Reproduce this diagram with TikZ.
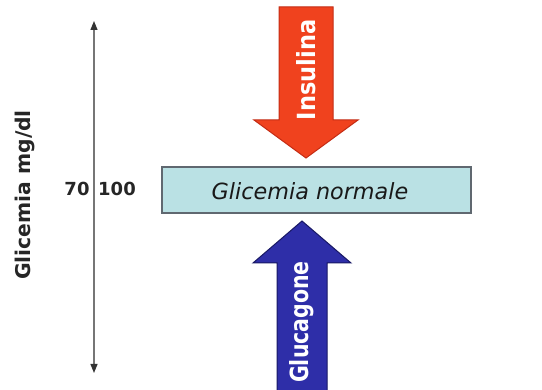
\documentclass[tikz,border=0pt]{standalone}
\usepackage{fontspec}
\usepackage{graphicx}
\setmainfont{DejaVu Sans}
\usetikzlibrary{arrows.meta}
\definecolor{insred}{RGB}{240,66,30}
\definecolor{insredline}{RGB}{196,44,20}
\definecolor{glublue}{RGB}{46,46,168}
\definecolor{glubluel}{RGB}{24,24,100}
\definecolor{boxfill}{RGB}{186,225,228}
\definecolor{boxline}{RGB}{96,104,112}
\definecolor{axisgray}{RGB}{118,118,118}
\tikzset{
  bigarrow/.style={line width=1pt, line join=miter},
  arrowlabel/.style={text=white, font=\bfseries\fontsize{25}{25}\selectfont, rotate=90, inner sep=0pt},
  boxstyle/.style={draw=boxline, fill=boxfill, line width=1.3pt, minimum width=309pt, minimum height=46pt, inner sep=0pt},
  numlabel/.style={font=\bfseries\fontsize{18}{18}\selectfont, text=black!85, inner sep=0pt},
  axislabel/.style={font=\bfseries\fontsize{20.3}{20.3}\selectfont, text=black!85, rotate=90, inner sep=0pt},
  axisline/.style={draw=axisgray, line width=1.2pt, {Triangle[width=7pt,length=9pt,color=black!80]}-{Triangle[width=7pt,length=9pt,color=black!80]}}
}
\begin{document}
\begin{tikzpicture}[x=1pt,y=-1pt]
\useasboundingbox (0,0) rectangle (542,390);
% insulin arrow
\draw[bigarrow, fill=insred, draw=insredline] (279,7) -- (333,7) -- (333,120) -- (358,120) -- (306,158) -- (254,120) -- (279,120) -- cycle;
\node[arrowlabel] (ins) at (306,70) {\scalebox{0.9}[1]{Insulina}};
% glucagon arrow
\draw[bigarrow, fill=glublue, draw=glubluel] (277,390) -- (277,263) -- (253,263) -- (302,221) -- (351,263) -- (327,263) -- (327,390);
\node[arrowlabel] (glu) at (302,322) {\scalebox{0.82}[1]{Glucagone}};
% box
\node[boxstyle] (box) at (316.5,190) {};
\node[font=\itshape\fontsize{22.3}{22.3}\selectfont, text=black!90, inner sep=0pt] (norm) at (310,191) {Glicemia normale};
% axis
\coordinate (top) at (94,21);
\coordinate (bot) at (94,373);
\draw[axisline] (bot) -- (top);
\node[numlabel] (n70) at (77,189) {70};
\node[numlabel] (n100) at (117,189) {100};
\node[axislabel] (ylab) at (25,195) {Glicemia mg/dl};
\end{tikzpicture}
\end{document}
